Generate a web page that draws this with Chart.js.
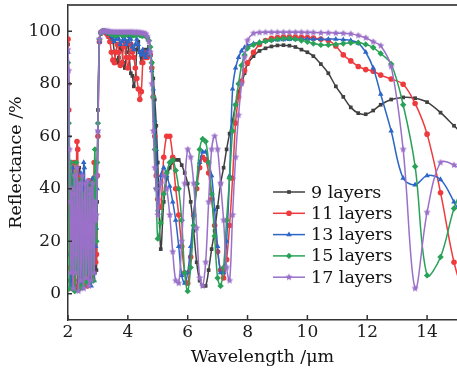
<!DOCTYPE html>
<html>
<head>
<meta charset="utf-8">
<script src="https://cdn.jsdelivr.net/npm/chart.js@4"></script>
<style>
  html, body { margin: 0; padding: 0; background: #fff; overflow: hidden; }
  #wrap { width: 461px; height: 373px; }
</style>
</head>
<body>
<div id="wrap"><canvas id="myChart" width="461" height="373"></canvas></div>
<script>
// wavelength grid (µm), shared by every curve
let wavelength = [
  2.000, 2.025, 2.050, 2.075, 2.100, 2.125, 2.150, 2.175, 2.200, 2.225,
  2.250, 2.275, 2.300, 2.325, 2.350, 2.375, 2.400, 2.425, 2.450, 2.475,
  2.500, 2.525, 2.550, 2.575, 2.600, 2.625, 2.650, 2.675, 2.700, 2.725,
  2.750, 2.775, 2.800, 2.825, 2.850, 2.875, 2.900, 2.925, 2.950, 2.975,
  3.00, 3.05, 3.10, 3.15, 3.20, 3.25, 3.30, 3.35, 3.40, 3.45,
  3.50, 3.55, 3.60, 3.65, 3.70, 3.75, 3.80, 3.85, 3.90, 3.95,
  4.00, 4.05, 4.10, 4.15, 4.20, 4.25, 4.30, 4.35, 4.40, 4.45,
  4.50, 4.55, 4.60, 4.65, 4.70, 4.75, 4.80, 4.85, 4.90, 4.95,
  5.0, 5.1, 5.2, 5.3, 5.4, 5.5, 5.6, 5.7, 5.8, 5.9,
  6.0, 6.1, 6.2, 6.3, 6.4, 6.5, 6.6, 6.7, 6.8, 6.9,
  7.0, 7.1, 7.2, 7.3, 7.4, 7.5, 7.6, 7.7, 7.8, 7.9,
  8.0, 8.2, 8.4, 8.6, 8.8, 9.0, 9.2, 9.4, 9.6, 9.8,
  10.0, 10.2, 10.45, 10.7, 10.95, 11.2, 11.45, 11.7, 11.95, 12.2,
  12.45, 12.8, 13.2, 13.6, 14.0, 14.45, 14.9, 15.35
];

// reflectance (%) for each stack
let r9 = [
  95, 80, 30, 5, 30, 45, 10, 25, 40, 5, 20, 45, 20, 2, 30, 48, 15, 3, 35, 42,
  10, 5, 38, 40, 8, 12, 40, 35, 5, 20, 43, 30, 6, 30, 44, 20, 8, 20, 9, 35,
  70, 96, 99, 100, 100, 100, 99.5, 99, 98, 97, 96, 92, 89, 88, 90, 95, 93, 88, 86, 92,
  96, 90, 84, 83, 79, 82, 93, 96, 92, 88, 90, 93, 92, 93, 94, 92, 88, 82, 74, 64,
  50, 17, 35, 44, 48, 50, 51, 51, 49, 46, 42, 35, 24, 12, 5, 3, 3, 9, 17, 24,
  33, 42, 48, 55, 61, 66, 72, 77, 80, 84,
  87.5, 90.5, 92.5, 93.5, 94.2, 94.6, 94.7, 94.5, 94, 93, 92, 90.5, 87.5, 84, 79, 75, 71, 68.8, 68.4, 69.8,
  72, 74, 74.8, 74.5, 73, 69, 64, 59
];
let r11 = [
  97, 70, 15, 10, 40, 20, 2, 35, 50, 15, 3, 40, 58, 55, 20, 2, 30, 45, 12, 5,
  40, 35, 4, 20, 42, 22, 3, 30, 43, 12, 8, 40, 38, 6, 25, 50, 30, 12, 15, 45,
  60, 96, 99.5, 100, 100, 99.5, 99, 98, 96, 92, 89, 88, 92, 95, 92, 87, 88, 94, 96, 90,
  86, 90, 95, 92, 90, 86, 82, 78, 74, 77, 88, 92, 90, 90, 92, 91, 86, 75, 60, 45,
  36, 33, 52, 60, 60, 52, 40, 30, 18, 8, 4, 14, 30, 40, 48, 52, 51, 46, 36, 26,
  16, 9, 6, 13, 26, 44, 65, 75, 81, 85,
  88, 92, 95, 96.5, 97.3, 97.6, 97.8, 97.8, 97.8, 97.7, 97.6, 97.4, 97, 96.5, 94.4, 91, 88.7, 86.6, 85.4, 84.8,
  83.3, 81.8, 79.8, 72.5, 60.8, 38.5, 12, -5
];
let r13 = [
  92, 60, 45, 15, 2, 30, 48, 20, 3, 35, 45, 10, 8, 40, 30, 4, 20, 46, 25, 2,
  30, 50, 48, 10, 5, 38, 40, 8, 10, 42, 30, 3, 25, 44, 15, 5, 20, 18, 25, 40,
  62, 96, 99.5, 100, 100, 100, 99.5, 99, 99, 98, 97, 96, 97, 98, 97, 95, 96, 98, 97, 95,
  96, 98, 97, 94, 93, 95, 97, 95, 92, 91, 93, 91, 90, 92, 93, 91, 85, 78, 66, 55,
  32, 45, 48, 45, 41, 35, 28, 18, 7, 4, 8, 18, 30, 42, 50, 54, 54, 50, 45, 32,
  18, 8, 8, 20, 45, 78, 86, 90, 92.5, 93.8,
  94.5, 95.3, 95.8, 96.2, 96.5, 96.7, 96.8, 96.9, 97, 97, 97, 97, 97, 97, 97, 96.8, 96.5, 95.5, 92, 86,
  76, 62, 44, 41.5, 45, 43.5, 35, 25
];
let r15 = [
  88, 65, 2, 30, 50, 10, 15, 45, 25, 1, 35, 50, 12, 8, 42, 30, 2, 25, 44, 15,
  3, 36, 38, 5, 18, 42, 20, 4, 35, 40, 8, 12, 42, 25, 5, 40, 55, 30, 20, 50,
  65, 97, 99.5, 100, 100, 100, 99.7, 99.5, 99.3, 99, 98.8, 98.5, 98.5, 98.8, 99, 99, 98.8, 98.5, 98.5, 98.8,
  99, 99, 98.8, 98.5, 98.5, 98.6, 98.8, 98.8, 98.6, 98.4, 98.3, 98.5, 98.3, 97.5, 96.5, 94, 88, 75, 55, 40,
  21, 27, 38, 46, 50, 51, 47, 40, 28, 8, 1, 10, 26, 42, 55, 59, 58, 50, 38, 22,
  6, 3, 10, 28, 44, 62, 72, 80, 87, 91,
  93.5, 94.8, 95.6, 96.2, 96.6, 97, 97.2, 97.3, 97, 96.5, 96, 95.3, 94.8, 94.8, 95, 95.3, 95.6, 95.6, 95, 93.8,
  91.5, 87.5, 72, 48.5, 7, 14, 32.5, 45
];
let r17 = [
  93, 85, 55, 35, 8, 40, 30, 2, 38, 45, 8, 15, 48, 25, 1, 40, 42, 5, 18, 45,
  20, 2, 35, 42, 6, 15, 43, 22, 3, 38, 40, 5, 18, 42, 28, 8, 35, 28, 30, 45,
  62, 97, 99.6, 100, 100, 100, 100, 100, 99.8, 99.8, 99.7, 99.7, 99.7, 99.7, 99.7, 99.7, 99.7, 99.7, 99.7, 99.7,
  99.7, 99.7, 99.7, 99.7, 99.6, 99.6, 99.6, 99.5, 99.5, 99.4, 99.3, 99.2, 99, 98, 96, 92, 80, 62, 48, 40,
  30, 42, 45, 40, 30, 16, 5, 4, 20, 42, 55, 52, 42, 25, 6, 3, 12, 35, 55, 60,
  55, 42, 28, 10, 5, 30, 52, 68, 80, 90,
  96.5, 99.2, 99.5, 99.6, 99.6, 99.6, 99.6, 99.6, 99.6, 99.6, 99.5, 99.5, 99.4, 99.4, 99.3, 99.2, 99, 98.4, 97.5, 96,
  94.5, 86.5, 55, 2, 31, 50, 49, 45
];

let seriesNames = ['9 layers', '11 layers', '13 layers', '15 layers', '17 layers'];
let xTicks = [2, 4, 6, 8, 10, 12, 14];
let yTicks = [0, 20, 40, 60, 80, 100];

/**
 * Small filled five-point star, used as the marker of the 17 layers curve
 */
function starMarker(color, r) {
    let c = document.createElement('canvas');
    let s = Math.ceil(r * 2 + 2);
    c.width = s; c.height = s;
    let g = c.getContext('2d');
    g.fillStyle = color;
    g.beginPath();
    for (let i = 0; i < 10; i++) {
        let rad = i % 2 ? r * 0.45 : r;
        let a = -Math.PI / 2 + i * Math.PI / 5;
        g.lineTo(s / 2 + rad * Math.cos(a), s / 2 + rad * Math.sin(a));
    }
    g.closePath();
    g.fill();
    return c;
}

function points(values) {
    return wavelength.map((w, i) => ({x: w, y: values[i]}));
}

let colors = ['#404040', '#ee3a3c', '#2c66c6', '#29a258', '#9a70c8'];
let styles = ['rect', 'circle', 'triangle', 'rectRot', starMarker(colors[4], 3.8)];
let radii = [2.6, 2.8, 3.2, 3.2, 3.8];
let allValues = [r9, r11, r13, r15, r17];

let datasets = allValues.map((v, i) => ({
    label: seriesNames[i],
    data: points(v),
    borderColor: colors[i],
    backgroundColor: colors[i],
    pointStyle: styles[i],
    pointRadius: radii[i],
    pointBorderWidth: 0,
    borderWidth: 1.5,
    tension: 0.35,
    order: 5 - i
}));

const serif = 'DejaVu Serif';

// inward ticks and the top frame line
const frame = {
    id: 'frame',
    afterDraw(chart) {
        let {ctx, chartArea: a, scales: {x, y}} = chart;
        ctx.save();
        ctx.strokeStyle = '#333';
        ctx.lineWidth = 1.5;
        ctx.beginPath();
        xTicks.forEach(v => {
            let px = x.getPixelForValue(v);
            ctx.moveTo(px, a.bottom);
            ctx.lineTo(px, a.bottom - 5);
        });
        yTicks.forEach(v => {
            let py = y.getPixelForValue(v);
            ctx.moveTo(a.left, py);
            ctx.lineTo(a.left + 4, py);
        });
        ctx.stroke();
        ctx.strokeStyle = '#555';
        ctx.lineWidth = 2;
        ctx.beginPath();
        ctx.moveTo(a.left, a.top);
        ctx.lineTo(a.right, a.top);
        ctx.stroke();
        ctx.restore();
    }
};

// legend drawn inside the plot, lower middle
const innerLegend = {
    id: 'innerLegend',
    afterDraw(chart) {
        let ctx = chart.ctx;
        ctx.save();
        ctx.font = '17.5px "' + serif + '"';
        ctx.textBaseline = 'middle';
        chart.data.datasets.forEach((ds, i) => {
            let yy = 192 + i * 21.3;
            ctx.strokeStyle = ds.borderColor;
            ctx.lineWidth = 1.5;
            ctx.beginPath();
            ctx.moveTo(273, yy);
            ctx.lineTo(305, yy);
            ctx.stroke();
            ctx.fillStyle = ds.backgroundColor;
            Chart.helpers.drawPoint(ctx, {pointStyle: ds.pointStyle, radius: ds.pointRadius, borderWidth: 0, rotation: 0}, 289, yy);
            ctx.fillStyle = '#111';
            ctx.fillText(ds.label, 311, yy + 1);
        });
        ctx.restore();
    }
};

let ctx = document.getElementById('myChart').getContext('2d');
let myChart = new Chart(ctx, {
    type: 'line',
    data: { datasets: datasets },
    options: {
        responsive: false,
        animation: false,
        layout: { padding: { top: 5, right: 0, left: 0, bottom: 0 } },
        plugins: { legend: { display: false }, tooltip: { enabled: false } },
        scales: {
            x: {
                type: 'linear', min: 2, max: 15,
                afterFit: s => { s.height = 53; s.paddingLeft = 0; s.paddingRight = 0; },
                afterBuildTicks: s => { s.ticks = xTicks.map(v => ({value: v})); },
                grid: { display: true, drawOnChartArea: false, drawTicks: false },
                border: { display: true, color: '#333', width: 1.5 },
                ticks: { padding: 2, color: '#1a1a1a', font: { family: serif, size: 17 } },
                title: { display: true, text: 'Wavelength /μm', color: '#111',
                         font: { family: serif, size: 17.5 }, padding: { top: 0, bottom: 5 } }
            },
            y: {
                min: -10, max: 110,
                afterFit: s => { s.width = 68; s.paddingTop = 0; s.paddingBottom = 0; },
                afterBuildTicks: s => { s.ticks = yTicks.map(v => ({value: v})); },
                grid: { display: true, drawOnChartArea: false, drawTicks: false },
                border: { display: true, color: '#333', width: 1.5 },
                ticks: { padding: 7, color: '#1a1a1a', font: { family: serif, size: 17 } },
                title: { display: true, text: 'Reflectance /%', color: '#111',
                         font: { family: serif, size: 17.5 }, padding: { top: 6, bottom: 0 } }
            }
        }
    },
    plugins: [frame, innerLegend]
});
</script>
</body>
</html>
